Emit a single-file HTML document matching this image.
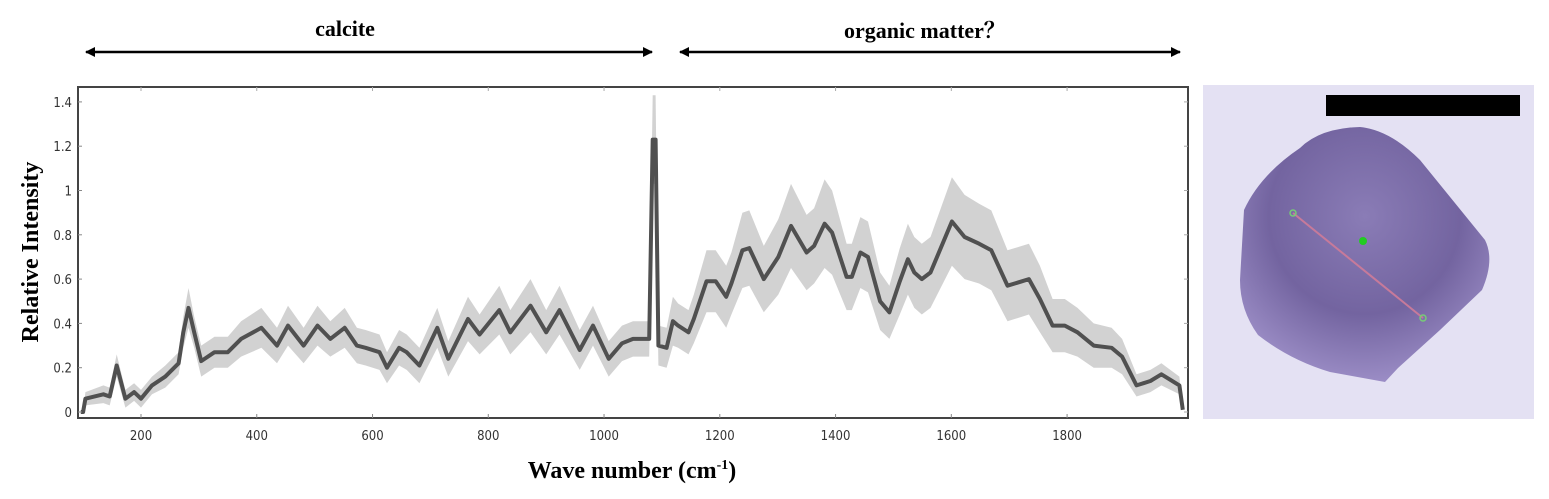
<!DOCTYPE html>
<html><head><meta charset="utf-8"><style>
body{margin:0;background:#fff;width:1549px;height:499px;overflow:hidden;position:relative;font-family:"Liberation Serif",serif}
svg{position:absolute;left:0;top:0}
</style></head><body>
<svg id="chart" width="1549" height="499">
<defs>
<radialGradient id="cg" cx="0.5" cy="0.35" r="0.7">
<stop offset="0" stop-color="#8a7cb6"/><stop offset="0.55" stop-color="#7364a0"/><stop offset="1" stop-color="#a294cc"/>
</radialGradient>
<marker id="ah" markerWidth="10" markerHeight="10" refX="9" refY="5" orient="auto-start-reverse" markerUnits="userSpaceOnUse"><path d="M0,0 L10,5 L0,10 z" fill="#000"/></marker>
</defs>
<line x1="86" y1="52" x2="652" y2="52" stroke="#000" stroke-width="2.5" marker-start="url(#ah)" marker-end="url(#ah)"/>
<text x="345" y="36" font-size="22" font-weight="bold" text-anchor="middle">calcite</text>
<line x1="680" y1="52" x2="1180" y2="52" stroke="#000" stroke-width="2.5" marker-start="url(#ah)" marker-end="url(#ah)"/>
<text x="925" y="38" font-size="22" font-weight="bold" text-anchor="middle" font-family="Liberation Serif,'Noto Serif CJK SC',serif">organic matter？</text>
<text transform="translate(38,252) rotate(-90)" font-size="24" font-weight="bold" text-anchor="middle">Relative Intensity</text>
<text x="632" y="478" font-size="24" font-weight="bold" text-anchor="middle">Wave number (cm<tspan font-size="14" dy="-9">-1</tspan><tspan dy="9">)</tspan></text>
<g id="plot"></g>
<g>
<rect x="1203" y="85" width="331" height="334" fill="#e4e1f3"/>
<rect x="1326" y="95" width="194" height="21" fill="#000"/>
<path d="M1300,148 Q1320,128 1360,127 Q1390,130 1420,160 L1485,240 Q1495,260 1482,290 L1440,330 L1398,368 L1385,382 L1330,372 Q1290,360 1258,335 Q1240,310 1240,280 L1244,210 Q1260,175 1300,148 Z" fill="url(#cg)"/>
<line x1="1293" y1="213" x2="1423" y2="318" stroke="#c77a9a" stroke-width="2"/>
<circle cx="1293" cy="213" r="3" fill="none" stroke="#7c7" stroke-width="1.5"/>
<circle cx="1423" cy="318" r="3" fill="none" stroke="#7c7" stroke-width="1.5"/>
<circle cx="1363" cy="241" r="4" fill="#2c2"/>
</g>
</svg>
<script>
const waves=[96,100,104,135,146,158,173,188,200,219,242,265,273,282,292,304,327,350,373,408,435,454,481,505,527,552,573,588,612,625,646,659,681,712,731,765,785,819,838,873,900,923,958,981,1008,1031,1050,1078,1084,1089,1094,1108,1119,1128,1146,1155,1177,1193,1211,1220,1239,1251,1276,1301,1323,1350,1363,1381,1394,1419,1428,1443,1456,1477,1493,1511,1525,1536,1549,1564,1601,1623,1648,1669,1697,1722,1734,1753,1775,1796,1818,1846,1877,1895,1920,1944,1963,1994,2000];
const intensity=[0,0,0.06,0.08,0.07,0.21,0.06,0.09,0.06,0.12,0.16,0.22,0.36,0.47,0.36,0.23,0.27,0.27,0.33,0.38,0.30,0.39,0.30,0.39,0.33,0.38,0.30,0.29,0.27,0.20,0.29,0.27,0.21,0.38,0.24,0.42,0.35,0.46,0.36,0.48,0.36,0.46,0.28,0.39,0.24,0.31,0.33,0.33,1.23,1.23,0.30,0.29,0.41,0.39,0.36,0.42,0.59,0.59,0.52,0.58,0.73,0.74,0.60,0.70,0.84,0.72,0.75,0.85,0.81,0.61,0.61,0.72,0.70,0.50,0.45,0.59,0.69,0.63,0.60,0.63,0.86,0.79,0.76,0.73,0.57,0.59,0.60,0.51,0.39,0.39,0.36,0.30,0.29,0.25,0.12,0.14,0.17,0.12,0.01];
const spread=[0,0,0.03,0.04,0.04,0.05,0.04,0.04,0.04,0.04,0.05,0.05,0.07,0.09,0.07,0.07,0.07,0.07,0.08,0.09,0.08,0.09,0.08,0.09,0.08,0.09,0.08,0.08,0.08,0.07,0.08,0.08,0.08,0.09,0.08,0.10,0.09,0.11,0.10,0.12,0.10,0.11,0.09,0.09,0.08,0.08,0.08,0.08,0.2,0.2,0.09,0.09,0.11,0.10,0.10,0.11,0.14,0.14,0.14,0.14,0.17,0.17,0.15,0.17,0.19,0.17,0.17,0.2,0.19,0.15,0.15,0.16,0.16,0.13,0.12,0.15,0.16,0.16,0.16,0.16,0.2,0.19,0.18,0.18,0.16,0.16,0.16,0.15,0.12,0.12,0.11,0.1,0.09,0.08,0.05,0.05,0.05,0.04,0];
const xTicks=[200,400,600,800,1000,1200,1400,1600,1800];
const yTicks=[0,0.2,0.4,0.6,0.8,1,1.2,1.4];
const L=78,R=1188,T=87,B=418;
const X=w=>141+(w-200)*0.5788;
const Y=v=>412-v*221.5;
const g=document.getElementById('plot');
const NS='http://www.w3.org/2000/svg';
function mk(t,a){const e=document.createElementNS(NS,t);for(const k in a)e.setAttribute(k,a[k]);g.appendChild(e);return e;}
let up=waves.map((w,i)=>X(w).toFixed(1)+','+Y(intensity[i]+spread[i]).toFixed(1));
let lo=waves.map((w,i)=>X(w).toFixed(1)+','+Y(Math.max(0,intensity[i]-spread[i])).toFixed(1)).reverse();
const band=mk('polygon',{points:up.concat(lo).join(' '),fill:'#d2d2d2'});


const line=mk('polyline',{points:waves.map((w,i)=>X(w).toFixed(1)+','+Y(intensity[i]).toFixed(1)).join(' '),fill:'none',stroke:'#505050','stroke-width':4,'stroke-linejoin':'round'});


const fr=mk('rect',{x:L,y:T,width:R-L,height:B-T,fill:'none',stroke:'#444','stroke-width':2});


xTicks.forEach(t=>{
 const tk=mk('line',{x1:X(t),x2:X(t),y1:B,y2:B-4,stroke:'#888'});
 
 
 mk('line',{x1:X(t),x2:X(t),y1:T,y2:T+4,stroke:'#aaa'});
 const tx=mk('text',{x:X(t),y:B+22,'font-size':13,'text-anchor':'middle',fill:'#333','font-family':'DejaVu Sans Condensed,Liberation Sans,sans-serif'});
 tx.textContent=t;
 
 
});
yTicks.forEach(t=>{
 const tk=mk('line',{x1:L,x2:L+4,y1:Y(t),y2:Y(t),stroke:'#888'});
 
 
 mk('line',{x1:R,x2:R-4,y1:Y(t),y2:Y(t),stroke:'#aaa'});
 const tx=mk('text',{x:L-6,y:Y(t)+5,'font-size':13,'text-anchor':'end',fill:'#333','font-family':'DejaVu Sans Condensed,Liberation Sans,sans-serif'});
 tx.textContent=t;
 
 
});
</script>
</body></html>
